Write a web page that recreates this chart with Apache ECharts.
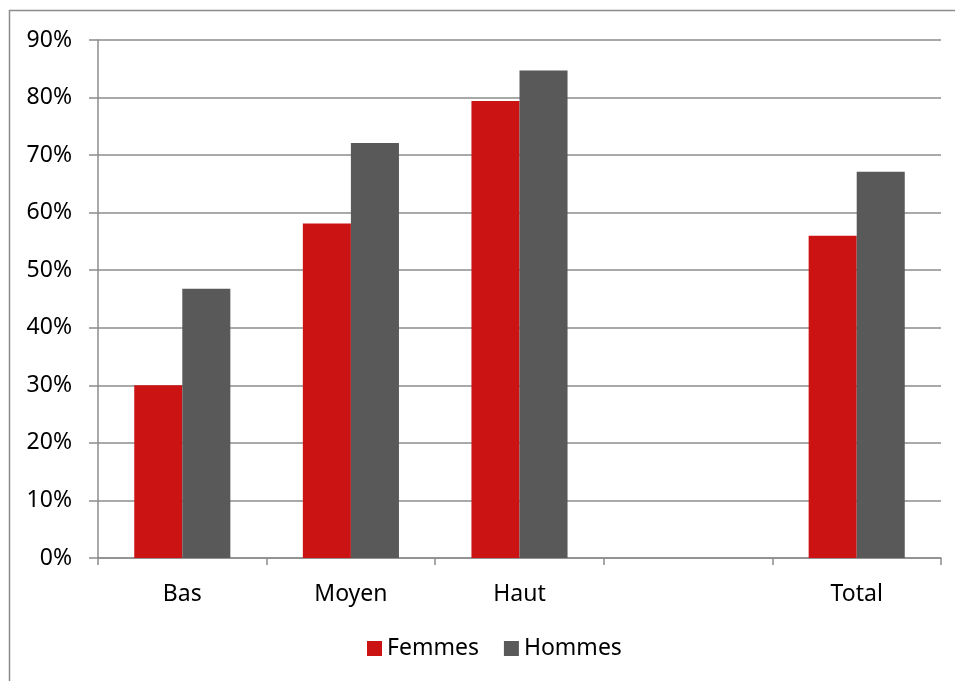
<!DOCTYPE html>
<html>
<head>
<meta charset="utf-8">
<script src="https://cdn.jsdelivr.net/npm/echarts@6/dist/echarts.min.js"></script>
<style>
html, body { margin: 0; padding: 0; background: #fff; }
#container { width: 955px; height: 681px; }
</style>
</head>
<body>
<div id="container"></div>
<script>
// données
var categories = ['Bas', 'Moyen', 'Haut', '', 'Total'];
var femmes = [30.0, 58.1, 79.4, null, 56.0];
var hommes = [46.8, 72.1, 84.7, null, 67.1];

var dom = document.getElementById('container');
var myChart = echarts.init(dom);

var font = 'Noto Sans';
var lineCol = '#8c8c8c';

var option = {
	animation: false,
	backgroundColor: '#fff',
	graphic: [{ // cadre gris autour du graphique
		type: 'rect',
		shape: { x: 9.5, y: 10.5, width: 1000, height: 1000 },
		style: { fill: 'none', stroke: lineCol, lineWidth: 1.5 },
		silent: true
	}],
	grid: { left: 98, right: 14, top: 40, bottom: 123 },
	legend: {
		top: 632,
		left: 362,
		itemWidth: 15,
		itemHeight: 15,
		itemGap: 25,
		icon: 'rect',
		textStyle: { fontFamily: font, fontSize: 23, color: '#000' },
		data: ['Femmes', 'Hommes']
	},
	xAxis: {
		type: 'category',
		data: categories,
		axisLine: { lineStyle: { color: lineCol, width: 1.5 } },
		axisTick: { show: true, length: 7, alignWithLabel: false, lineStyle: { color: lineCol, width: 1.5 } },
		axisLabel: { fontFamily: font, fontSize: 23, color: '#000', margin: 25 }
	},
	yAxis: {
		type: 'value',
		min: 0,
		max: 90,
		interval: 10,
		axisLine: { show: true, lineStyle: { color: lineCol, width: 1.5 } },
		axisTick: { show: true, length: 9, lineStyle: { color: lineCol, width: 1.5 } },
		splitLine: { lineStyle: { color: lineCol, width: 1.5 } },
		axisLabel: { fontFamily: font, fontSize: 23, color: '#000', margin: 26, formatter: '{value}%' }
	},
	series: [{
		name: 'Femmes',
		type: 'bar',
		data: femmes,
		barGap: '0%',
		barCategoryGap: '43%',
		itemStyle: { color: '#cc1314' }
	}, {
		name: 'Hommes',
		type: 'bar',
		data: hommes,
		barGap: '0%',
		barCategoryGap: '43%',
		itemStyle: { color: '#595959' }
	}]
};

myChart.setOption(option);
</script>
</body>
</html>
